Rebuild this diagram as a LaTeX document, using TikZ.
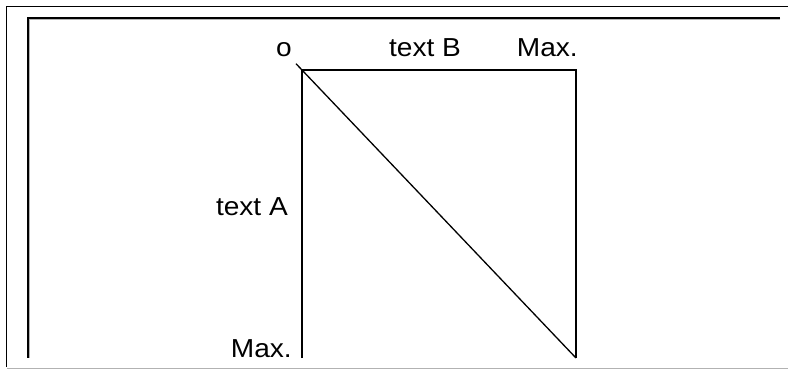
\documentclass[tikz,border=0pt]{standalone}
\usepackage{fontspec}
\setmainfont[FakeStretch=1.08]{Liberation Sans}
\begin{document}
\begin{tikzpicture}[x=1pt,y=-1pt,
  lbl/.style={inner sep=0pt,font=\fontsize{26}{28}\selectfont},
  frame/.style={line width=1.8pt,black},
  shadow/.style={line width=1pt,gray!60},
  side/.style={line width=1.6pt,black},
  diag/.style={line width=1.3pt,black}]
\useasboundingbox (0,0) rectangle (788,369);
% frames
\draw[shadow] (788,368.5) -- (7,368.5);
\draw[frame] (788,6.5) -- (6.5,6.5) -- (6.5,367);
\draw[shadow] (780,19.8) -- (29.8,19.8) -- (29.8,358);
\draw[frame] (780,18.3) -- (28.3,18.3) -- (28.3,358);
% square
\coordinate (o) at (302,70);
\coordinate (tr) at (576,70);
\coordinate (bl) at (302,358);
\coordinate (br) at (576,358);
\coordinate (ext) at (296,63.7);
\draw[side] (bl) -- (o) -- (tr) -- (br);
\draw[diag] (ext) -- (br);
% labels
\node[lbl,anchor=base] (lo) at (284,57) {o};
\node[lbl,anchor=base] (lb) at (425,57) {text B};
\node[lbl,anchor=base east] (lmaxb) at (578,57) {Max.};
\node[lbl,anchor=base east] (la) at (288,215) {text A};
\node[lbl,anchor=base east] (lmaxa) at (292,357) {Max.};
\end{tikzpicture}
\end{document}
